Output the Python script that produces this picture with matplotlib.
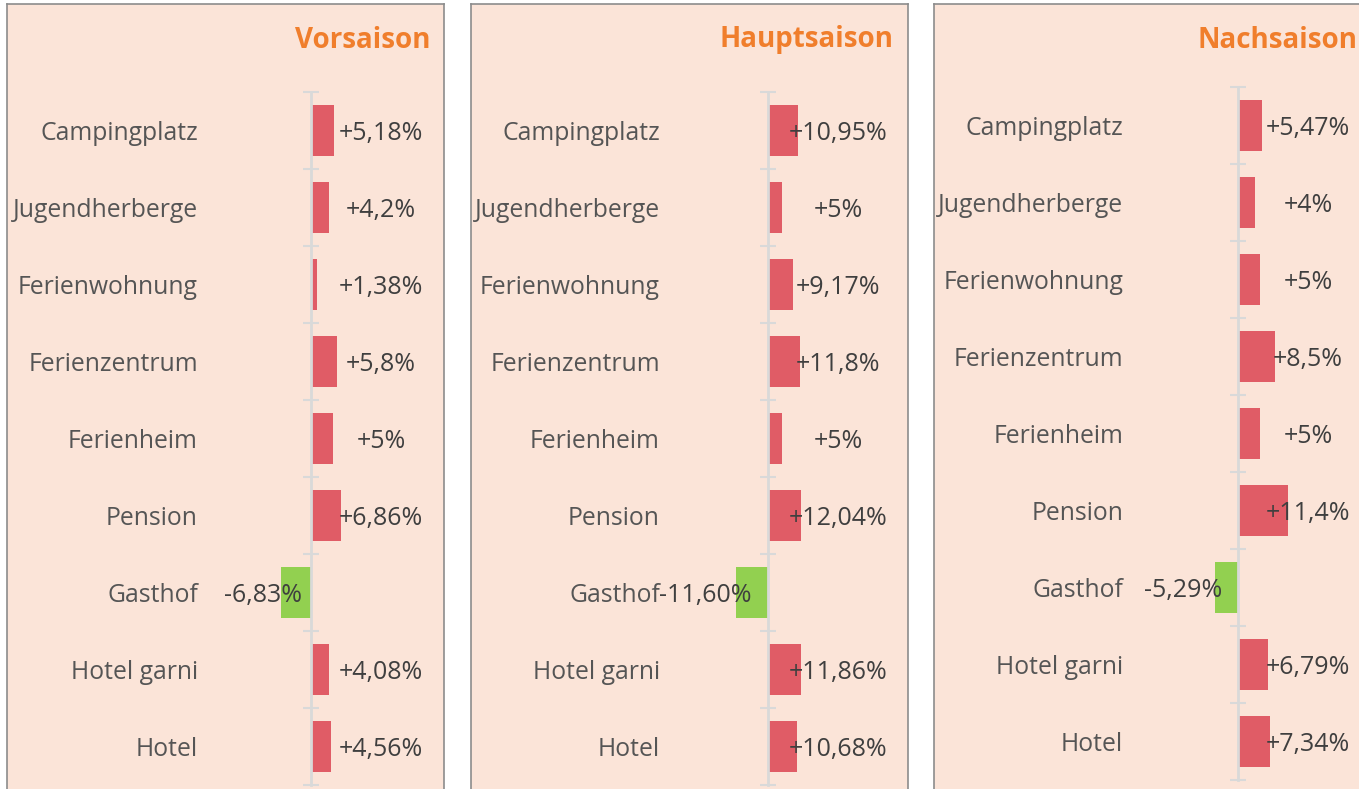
import numpy as np
import matplotlib
matplotlib.use('Agg')
import matplotlib.pyplot as plt

plt.rcParams['font.family'] = ['Open Sans', 'DejaVu Sans']

# data
categories = ['Campingplatz', 'Jugendherberge', 'Ferienwohnung', 'Ferienzentrum',
              'Ferienheim', 'Pension', 'Gasthof', 'Hotel garni', 'Hotel']
seasons = ['Vorsaison', 'Hauptsaison', 'Nachsaison']

vor_values = [5.18, 4.2, 1.38, 5.8, 5.0, 6.86, -6.83, 4.08, 4.56]
vor_labels = ['+5,18%', '+4,2%', '+1,38%', '+5,8%', '+5%', '+6,86%', '-6,83%', '+4,08%', '+4,56%']

haupt_values = [10.95, 5.0, 9.17, 11.8, 5.0, 12.04, -11.60, 11.86, 10.68]
haupt_labels = ['+10,95%', '+5%', '+9,17%', '+11,8%', '+5%', '+12,04%', '-11,60%', '+11,86%', '+10,68%']

nach_values = [5.47, 4.0, 5.0, 8.5, 5.0, 11.4, -5.29, 6.79, 7.34]
nach_labels = ['+5,47%', '+4%', '+5%', '+8,5%', '+5%', '+11,4%', '-5,29%', '+6,79%', '+7,34%']

# layout (pixels)
W, H = 1359, 789
ROW = 77
panels = [
    dict(left=7, right=444, top=4, axis=311, tick_top=92, scale=4.4, neg=-48, pad=113, title_x=431),
    dict(left=471, right=908, top=4, axis=768, tick_top=92, scale=2.75, neg=-63, pad=108, title_x=894),
    dict(left=934, right=1371, top=4, axis=1238, tick_top=87, scale=4.35, neg=-55, pad=115, title_x=1357),
]
series = [(vor_values, vor_labels), (haupt_values, haupt_labels), (nach_values, nach_labels)]

RED = '#E05C66'
GREEN = '#92D050'
BG = '#FBE4D8'
GRID = '#D9D9D9'
PT = 72.0 / 100


def fx(px):
    return px / W


def fy(py):
    return 1 - py / H


fig = plt.figure(figsize=(W / 100, H / 100), dpi=100)

for p, season, (vals, labels) in zip(panels, seasons, series):
    # panel background
    bg = fig.add_axes([fx(p['left']), fy(800), fx(p['right'] - p['left']), (800 - p['top']) / H])
    bg.set_facecolor(BG)
    bg.set_xticks([])
    bg.set_yticks([])
    for s in bg.spines.values():
        s.set_color('#8C8C8C')
        s.set_linewidth(1.2)

    # bars
    bottom = p['tick_top'] + ROW * len(categories)
    ax = fig.add_axes([fx(p['left']), fy(bottom), fx(p['right'] - p['left']),
                       (bottom - p['tick_top']) / H])
    ax.patch.set_alpha(0)
    y = np.arange(len(categories))
    colors = [RED if v > 0 else GREEN for v in vals]
    ax.barh(y, vals, height=0.66, color=colors, zorder=1)
    ax.set_xlim((p['left'] - p['axis']) / p['scale'], (p['right'] - p['axis']) / p['scale'])
    ax.set_ylim(len(categories) - 0.5, -0.5)

    for side in ['top', 'right', 'bottom']:
        ax.spines[side].set_visible(False)
    ax.spines['left'].set_position(('data', 0))
    ax.spines['left'].set_color(GRID)
    ax.spines['left'].set_linewidth(2)
    ax.spines['left'].set_zorder(3)
    ax.set_xticks([])
    ax.set_yticks(y)
    ax.set_yticklabels(categories, fontsize=17.8, color='#555555')
    ax.tick_params(axis='y', which='major', length=0, pad=p['pad'] * PT)
    ax.set_yticks(np.arange(-0.5, len(categories), 1), minor=True)
    ax.tick_params(axis='y', which='minor', direction='inout', length=12,
                   width=1.5, color=GRID)

    for i, (v, lab) in enumerate(zip(vals, labels)):
        off = 70 if v > 0 else p['neg']
        ax.annotate(lab, xy=(0, i), xytext=(off * PT, -3 * PT), textcoords='offset points',
                    ha='center', va='center', fontsize=18, color='#3F3F3F', zorder=4)

    fig.text(fx(p['title_x']), fy(40), season, ha='right', va='center',
             fontsize=20, fontweight='bold', color='#F07E2C')

fig.savefig('out.png', dpi=100, facecolor='white')
